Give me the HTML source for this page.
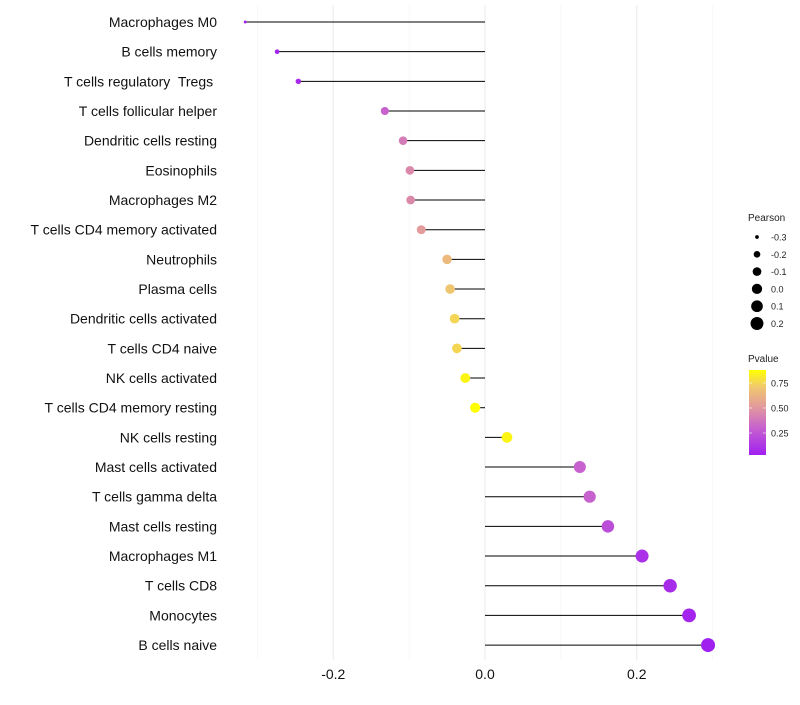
<!DOCTYPE html>
<html><head><meta charset="utf-8"><style>
body{margin:0;background:#fff;font-family:"Liberation Sans",sans-serif;}
text{white-space:pre;}
</style></head><body>
<svg id="c" width="800" height="700" xmlns="http://www.w3.org/2000/svg"></svg>
<script>
const categories=["Macrophages M0","B cells memory","T cells regulatory  Tregs ","T cells follicular helper","Dendritic cells resting","Eosinophils","Macrophages M2","T cells CD4 memory activated","Neutrophils","Plasma cells","Dendritic cells activated","T cells CD4 naive","NK cells activated","T cells CD4 memory resting","NK cells resting","Mast cells activated","T cells gamma delta","Mast cells resting","Macrophages M1","T cells CD8","Monocytes","B cells naive"];
const pearson=[-0.316,-0.274,-0.246,-0.132,-0.108,-0.099,-0.098,-0.084,-0.050,-0.046,-0.040,-0.037,-0.026,-0.013,0.029,0.125,0.138,0.162,0.207,0.244,0.269,0.294];
const pvalue=[0.04,0.05,0.07,0.3,0.4,0.45,0.45,0.52,0.65,0.7,0.75,0.75,0.85,0.95,0.85,0.3,0.3,0.22,0.1,0.08,0.05,0.03];
const xTicks=[-0.2,0.0,0.2];
const xTickLabels=["-0.2","0.0","0.2"];
const sizeLegend=[-0.3,-0.2,-0.1,0.0,0.1,0.2];
const sizeLegendLabels=["-0.3","-0.2","-0.1","0.0","0.1","0.2"];
const pTicks=[0.25,0.5,0.75];
const pTickLabels=["0.25","0.50","0.75"];

const NS="http://www.w3.org/2000/svg";
const svg=document.getElementById('c');
function X(v){return 485+v*758.75;}
function Y(i){return 22+i*29.67;}
function R(v){return Math.sqrt(2.25+Math.max(0,v+0.316)*76.6);}
function P(p){return 455-(p-0.03)*100;}
function lerp(a,b,t){return a.map((x,i)=>Math.round(x+(b[i]-x)*t));}
const stops=[[0,[160,32,240]],[0.33,[200,100,205]],[0.55,[225,150,160]],[0.8,[240,200,110]],[1,[255,255,0]]];
function col(p){let t=(p-0.03)/0.85;t=Math.max(0,Math.min(1,t));
 for(let i=1;i<stops.length;i++){if(t<=stops[i][0]){const s=stops[i-1],e=stops[i];const c=lerp(s[1],e[1],(t-s[0])/(e[0]-s[0]));return `rgb(${c})`;}}return 'rgb(255,255,0)';}
function el(t,a,p){const e=document.createElementNS(NS,t);for(const k in a)e.setAttribute(k,a[k]);(p||svg).appendChild(e);return e;}

[-0.3,-0.1,0.1,0.3].forEach(v=>{const g=el('line',{x1:X(v),x2:X(v),y1:5,y2:660,stroke:'#f2f2f2','stroke-width':0.6});});
xTicks.forEach((v,i)=>{const g=el('line',{x1:X(v),x2:X(v),y1:5,y2:660,stroke:'#ebebeb','stroke-width':1.1});
 const t=el('text',{x:X(v),y:679,'text-anchor':'middle','font-size':14,fill:'#111'});t.textContent=xTickLabels[i];});

categories.forEach((c,i)=>{
 const t=el('text',{x:217,y:Y(i)+5,'text-anchor':'end','font-size':14,fill:'#111'});t.textContent=c;
 
 const l=el('line',{x1:X(0),x2:X(pearson[i]),y1:Y(i),y2:Y(i),stroke:'#000','stroke-width':1});
 
 const d=el('circle',{cx:X(pearson[i]),cy:Y(i),r:R(pearson[i]),fill:col(pvalue[i])});
 
});

let lt=el('text',{x:748,y:221,'font-size':10,fill:'#222'});lt.textContent='Pearson';
sizeLegend.forEach((v,i)=>{const y=237+i*17.3;
 const c=el('circle',{cx:757,cy:y,r:R(v),fill:'#000'});
 const t=el('text',{x:771,y:y+3.5,'font-size':9,fill:'#222'});t.textContent=sizeLegendLabels[i];});

lt=el('text',{x:748,y:362,'font-size':10,fill:'#222'});lt.textContent='Pvalue';
const defs=el('defs',{});const gr=el('linearGradient',{id:'g',x1:0,y1:1,x2:0,y2:0},defs);
stops.forEach(s=>el('stop',{offset:s[0],'stop-color':`rgb(${s[1]})`},gr));
const bar=el('rect',{x:749,y:370,width:17,height:85,fill:'url(#g)'});
pTicks.forEach((p,i)=>{el('line',{x1:749,x2:752,y1:P(p),y2:P(p),stroke:'#fff','stroke-width':0.6});el('line',{x1:763,x2:766,y1:P(p),y2:P(p),stroke:'#fff','stroke-width':0.6});
 const t=el('text',{x:771,y:P(p)+3.5,'font-size':9,fill:'#222'});t.textContent=pTickLabels[i];});
</script>
</body></html>
